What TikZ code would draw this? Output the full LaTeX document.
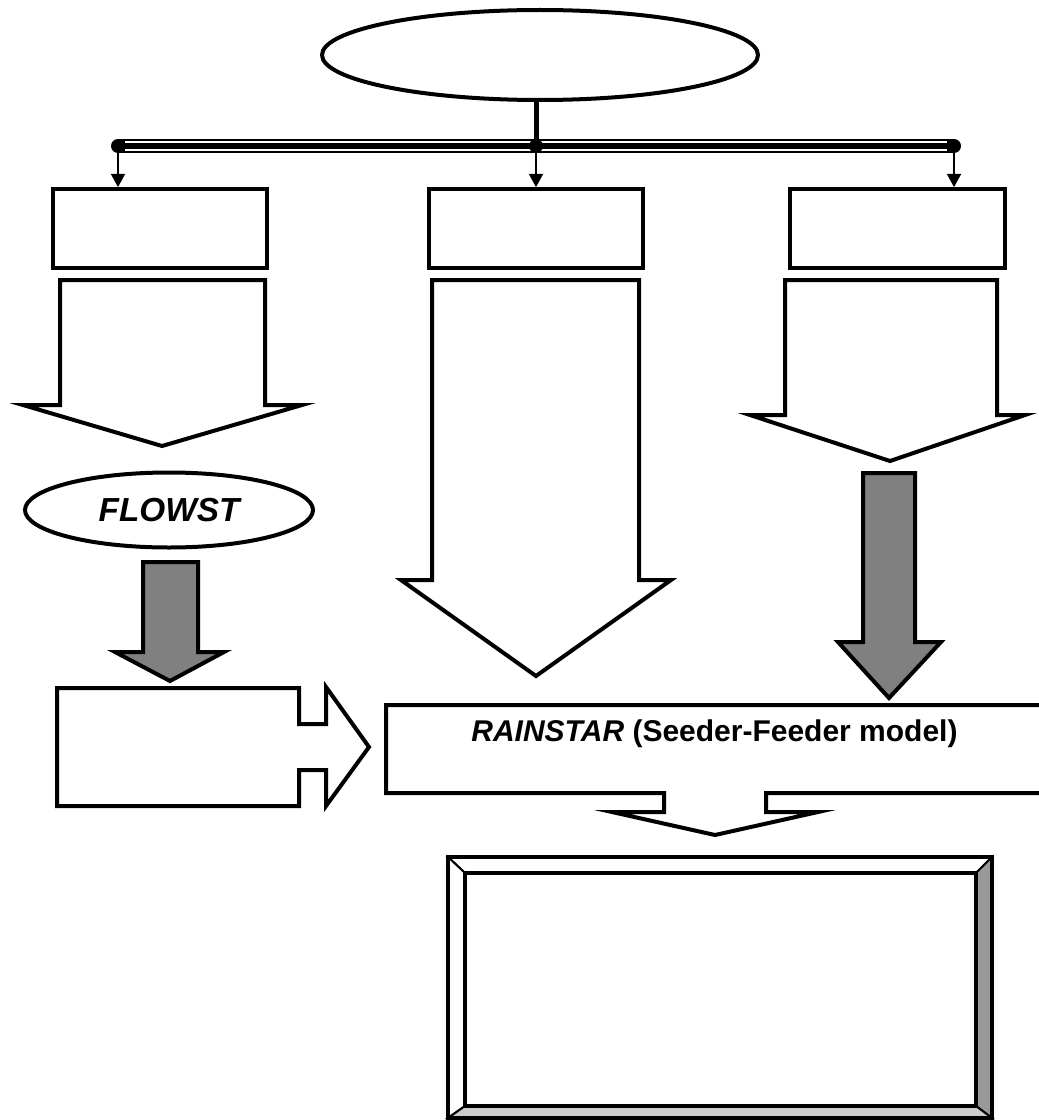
\documentclass[tikz,border=0pt]{standalone}
\usepackage{fontspec}
\setmainfont{Liberation Sans}
\usepackage{xcolor}
\usepackage{tikz}
\usetikzlibrary{shapes.geometric, arrows.meta, positioning, calc}
\definecolor{arrowgray}{RGB}{128, 128, 128}
\definecolor{bevelgray}{RGB}{153, 153, 153}
\definecolor{bevellight}{RGB}{204, 204, 204}

\begin{document}
\begin{tikzpicture}[
    x=0.75pt, y=-0.75pt,
    outline/.style={draw=black, line width=3pt},
    oval/.style={ellipse, outline, fill=white, inner sep=0pt, font=\bfseries\itshape\fontsize{25}{29}\selectfont},
    unit/.style={rectangle, outline, fill=white, inner sep=0pt, minimum width=161pt, minimum height=59pt},
    hollowarrow/.style={outline, fill=white, line join=miter},
    grayarrow/.style={outline, fill=arrowgray, line join=miter},
    feed/.style={-{Triangle[width=10.5pt, length=10pt]}, line width=1.5pt},
    bevel/.style={draw=black, line width=1.5pt}
]
    \useasboundingbox (0,0) rectangle (1038,1120);

    \node[oval, minimum width=327pt, minimum height=67.5pt] (top) at (540,55) {};
    \node[unit] (boxL) at (160,228.5) {};
    \node[unit] (boxM) at (536,228.5) {};
    \node[unit] (boxR) at (897.5,228.5) {};
    \node[oval, minimum width=216pt, minimum height=56.25pt] (flowst) at (169,510) {FLOWST};

    \coordinate (busL) at (118,146);
    \coordinate (busM) at (536,146);
    \coordinate (busR) at (954,146);

    \draw[line width=3.75pt] (busM |- top.south) -- (busM);
    \draw[line width=10.5pt, line cap=round] (busL) -- (busR);
    \draw[line width=7pt, white, shorten <=5pt, shorten >=5pt] (busL) -- (busR);
    \draw[line width=4pt] (busL) -- (busR);
    \fill (busM) circle (5.25pt);

    \draw[feed] (busL) -- (busL |- boxL.north);
    \draw[feed] (busM) -- (boxM.north);
    \draw[feed] (busR) -- (busR |- boxR.north);

    \draw[hollowarrow] (60,280) -- (265,280) -- (265,405) -- (302,405) -- (162,446) -- (23,405) -- (60,405) -- cycle;
    \draw[hollowarrow] (432,280) -- (639,280) -- (639,580) -- (671,580) -- (536,676) -- (401,580) -- (432,580) -- cycle;
    \draw[hollowarrow] (785,280) -- (997,280) -- (997,415) -- (1025,415) -- (890,461) -- (750,415) -- (785,415) -- cycle;

    \draw[grayarrow] (143,562) -- (198,562) -- (198,652) -- (224,652) -- (170,681) -- (115,652) -- (143,652) -- cycle;
    \draw[grayarrow] (863,473) -- (915,473) -- (915,642) -- (941,642) -- (889,698) -- (838,642) -- (863,642) -- cycle;

    \draw[hollowarrow] (57,688) -- (299,688) -- (299,724) -- (326,724) -- (326,687) -- (369,747) -- (326,806) -- (326,770) -- (299,770) -- (299,806) -- (57,806) -- cycle;
    \draw[hollowarrow] (386,705) -- (1050,705) -- (1050,793) -- (766,793) -- (766,812) -- (818,812) -- (715,835) -- (612,812) -- (664,812) -- (664,793) -- (386,793) -- cycle;
    \node[font=\bfseries\fontsize{22.5}{27}\selectfont, inner sep=0pt] (model) at (714.5,734) {\textit{RAINSTAR} (Seeder-Feeder model)};

    \coordinate (fo1) at (448,857);
    \coordinate (fo2) at (992,857);
    \coordinate (fo3) at (992,1118);
    \coordinate (fo4) at (448,1118);
    \coordinate (fi1) at (465,873);
    \coordinate (fi2) at (976,873);
    \coordinate (fi3) at (976,1106);
    \coordinate (fi4) at (465,1106);
    \filldraw[bevel, fill=white] (fo1) -- (fo2) -- (fi2) -- (fi1) -- cycle;
    \filldraw[bevel, fill=white] (fo1) -- (fi1) -- (fi4) -- (fo4) -- cycle;
    \filldraw[bevel, fill=bevelgray] (fo2) -- (fo3) -- (fi3) -- (fi2) -- cycle;
    \filldraw[bevel, fill=bevellight] (fo4) -- (fi4) -- (fi3) -- (fo3) -- cycle;
    \draw[outline] (fo1) rectangle (fo3);
    \draw[outline] (fi1) rectangle (fi3);
\end{tikzpicture}
\end{document}
